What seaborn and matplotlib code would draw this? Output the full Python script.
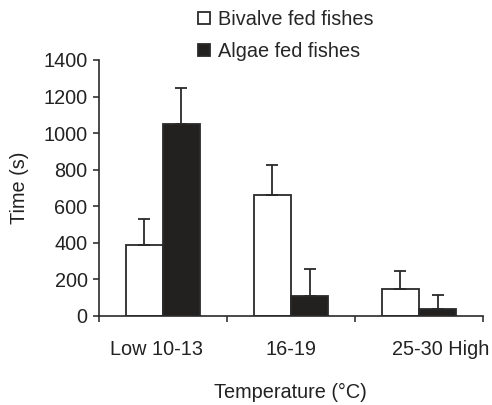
import numpy as np
import pandas as pd
import matplotlib
matplotlib.use("Agg")
import matplotlib.pyplot as plt
import matplotlib.transforms as mtransforms
import seaborn as sns

# data
categories = ["Low 10-13", "16-19", "25-30 High"]
groups = ["Bivalve fed fishes", "Algae fed fishes"]
bivalve_mean = [388, 661, 148]
bivalve_err = [142, 165, 100]
algae_mean = [1051, 111, 38]
algae_err = [197, 148, 77]
yticks = [0, 200, 400, 600, 800, 1000, 1200, 1400]

df = pd.DataFrame({
    "Temperature": categories * 2,
    "Diet": [groups[0]] * 3 + [groups[1]] * 3,
    "Time": bivalve_mean + algae_mean,
})

sns.set_style("ticks")
plt.rcParams['font.family'] = ['Liberation Sans', 'DejaVu Sans']
fs = 14.3
ink = "#2a2a2a"

fig, ax = plt.subplots(figsize=(4.92, 4.05), dpi=100)
fig.subplots_adjust(left=0.2006, right=0.982, bottom=0.2198, top=0.852)

sns.barplot(data=df, x="Temperature", y="Time", hue="Diet",
            palette=["white", "#231f20"], width=0.58, edgecolor=ink,
            linewidth=1.3, errorbar=None, ax=ax)

# upward-only error bars
for cont, err in zip(ax.containers, [bivalve_err, algae_err]):
    xs = [b.get_x() + b.get_width() / 2 for b in cont]
    ys = [b.get_height() for b in cont]
    ax.errorbar(xs, ys, yerr=[np.zeros(len(err)), err], fmt="none",
                ecolor=ink, elinewidth=1.3, capsize=4, capthick=1.3, zorder=3)

# axes
ax.set_xlim(-0.5, 2.5)
ax.set_ylim(0, 1400)
ax.set_yticks(yticks)
ax.set_yticklabels([str(v) for v in yticks], fontsize=fs)
ax.set_xticks([-0.5, 0.5, 1.5, 2.5])
ax.set_xticklabels([])
ax.set_xticks([0, 1, 2], minor=True)
ax.set_xticklabels(categories, minor=True, fontsize=fs)
ax.tick_params(axis="x", which="minor", length=0, pad=17.5)
ax.tick_params(axis="both", which="major", length=4, width=1.1, color=ink, pad=4)
ax.tick_params(colors="#222222", which="both")
sns.despine(ax=ax)
for s in ["left", "bottom"]:
    ax.spines[s].set_linewidth(1.2)
    ax.spines[s].set_color(ink)

# the outer labels sit a bit off-centre in the original
for lab, dx in zip(ax.get_xticklabels(minor=True), [-6, 0, 22]):
    lab.set_transform(lab.get_transform() +
                      mtransforms.ScaledTranslation(dx / 100, 0, fig.dpi_scale_trans))

ax.set_xlabel("Temperature (°C)", fontsize=fs, labelpad=17, color="#222222")
ax.set_ylabel("Time (s)", fontsize=fs, labelpad=10, color="#222222")

# legend above the plot
handles, labels = ax.get_legend_handles_labels()
ax.get_legend().remove()
fig.legend(handles, labels, loc="upper left", bbox_to_anchor=(0.382, 1.0),
           frameon=False, borderpad=0, handlelength=0.6, handleheight=0.6,
           handletextpad=0.4, labelspacing=0.65, fontsize=fs)

plt.savefig("out.png", dpi=100)
